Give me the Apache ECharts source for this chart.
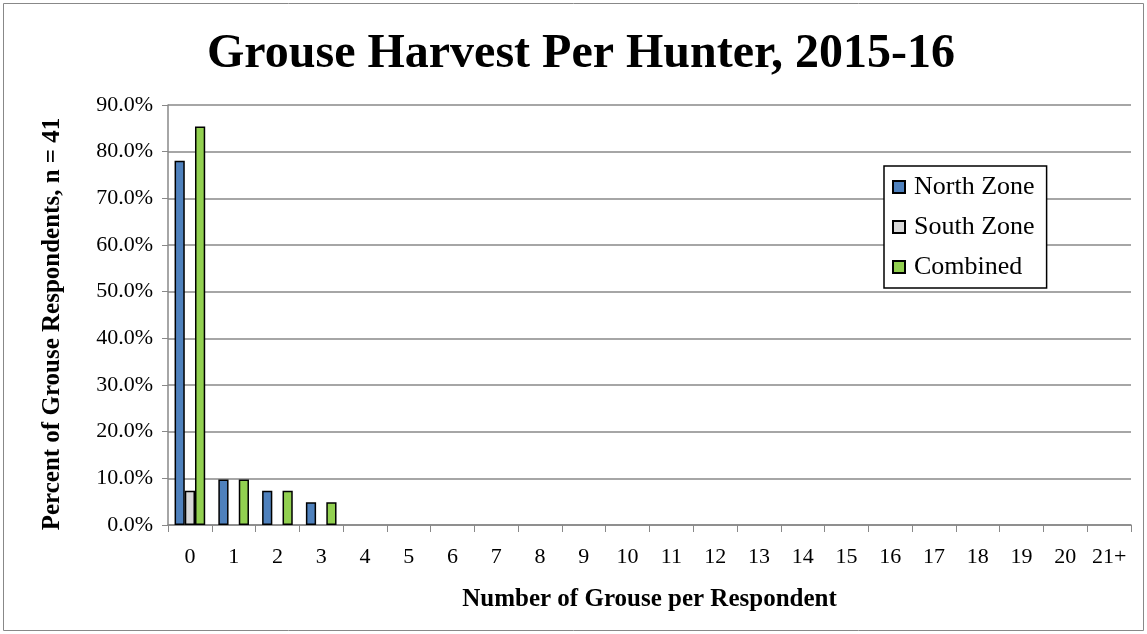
<!DOCTYPE html>
<html><head><meta charset="utf-8">
<script src="https://cdn.jsdelivr.net/npm/echarts@6/dist/echarts.min.js"></script>
<style>html,body{margin:0;padding:0;background:#fff}#c{width:1147px;height:634px}</style>
</head><body><div id="c"></div>
<script>
const categories = ['0','1','2','3','4','5','6','7','8','9','10','11','12','13','14','15','16','17','18','19','20','21+'];
const northZone = [78.05, 9.76, 7.32, 4.88, 0,0,0,0,0,0,0,0,0,0,0,0,0,0,0,0,0,0];
const southZone = [7.32, 0, 0, 0, 0,0,0,0,0,0,0,0,0,0,0,0,0,0,0,0,0,0];
const combined  = [85.37, 9.76, 7.32, 4.88, 0,0,0,0,0,0,0,0,0,0,0,0,0,0,0,0,0,0];
const seriesNames = ['North Zone','South Zone','Combined'];
const colors = ['#4f81bd','#d9d9d9','#92d050'];
const font = '"Liberation Serif", "Times New Roman", serif';

const chart = echarts.init(document.getElementById('c'));
// zero-height bars are not drawn (no border line), as in the reference
const mk = (name, data, color) => ({
  name, type: 'bar', data: data.map(v => v === 0 ? '-' : v), barGap: '0%', barCategoryGap: '30%',
  itemStyle: { color, borderColor: '#000', borderWidth: 1.5 }
});
chart.setOption({
  animation: false,
  backgroundColor: '#fff',
  graphic: [{ type: 'rect', shape: { x: 3.5, y: 3.5, width: 1140, height: 627 }, style: { fill: 'none', stroke: '#888', lineWidth: 1 } }],
  title: { text: 'Grouse Harvest Per Hunter, 2015-16', left: 202, top: 26,
    textStyle: { fontFamily: font, fontWeight: 'bold', fontSize: 48, color: '#000' } },
  legend: {
    orient: 'vertical', left: 884, top: 166, data: seriesNames,
    itemWidth: 12, itemHeight: 12, itemGap: 14,
    padding: [8, 12, 8, 8],
    borderColor: '#000', borderWidth: 1.5, backgroundColor: '#fff',
    textStyle: { fontFamily: font, fontSize: 26, color: '#000', padding: [0,0,0,4] },
    icon: 'rect'
  },
  grid: { left: 168, right: 16, top: 105, bottom: 109, containLabel: false },
  xAxis: {
    type: 'category', data: categories,
    name: 'Number of Grouse per Respondent', nameLocation: 'middle', nameGap: 62,
    nameTextStyle: { fontFamily: font, fontWeight: 'bold', fontSize: 25, color: '#000' },
    axisLine: { lineStyle: { color: '#888', width: 1.5 } },
    axisTick: { show: true, length: 7, lineStyle: { color: '#888' } },
    axisLabel: { fontFamily: font, fontSize: 22, color: '#000', margin: 21, interval: 0 }
  },
  yAxis: {
    type: 'value', min: 0, max: 90, interval: 10,
    name: 'Percent of Grouse Respondents, n = 41', nameLocation: 'middle', nameGap: 103,
    nameTextStyle: { fontFamily: font, fontWeight: 'bold', fontSize: 25, color: '#000', padding: [0, 18, 0, 0] },
    axisLine: { show: true, lineStyle: { color: '#888', width: 1.5 } },
    axisTick: { show: true, length: 6, lineStyle: { color: '#888' } },
    splitLine: { lineStyle: { color: '#888', width: 1.5 } },
    axisLabel: { fontFamily: font, fontSize: 22, color: '#000', margin: 15, formatter: v => v.toFixed(1) + '%' }
  },
  series: [ mk(seriesNames[0], northZone, colors[0]), mk(seriesNames[1], southZone, colors[1]), mk(seriesNames[2], combined, colors[2]) ]
});
</script></body></html>
